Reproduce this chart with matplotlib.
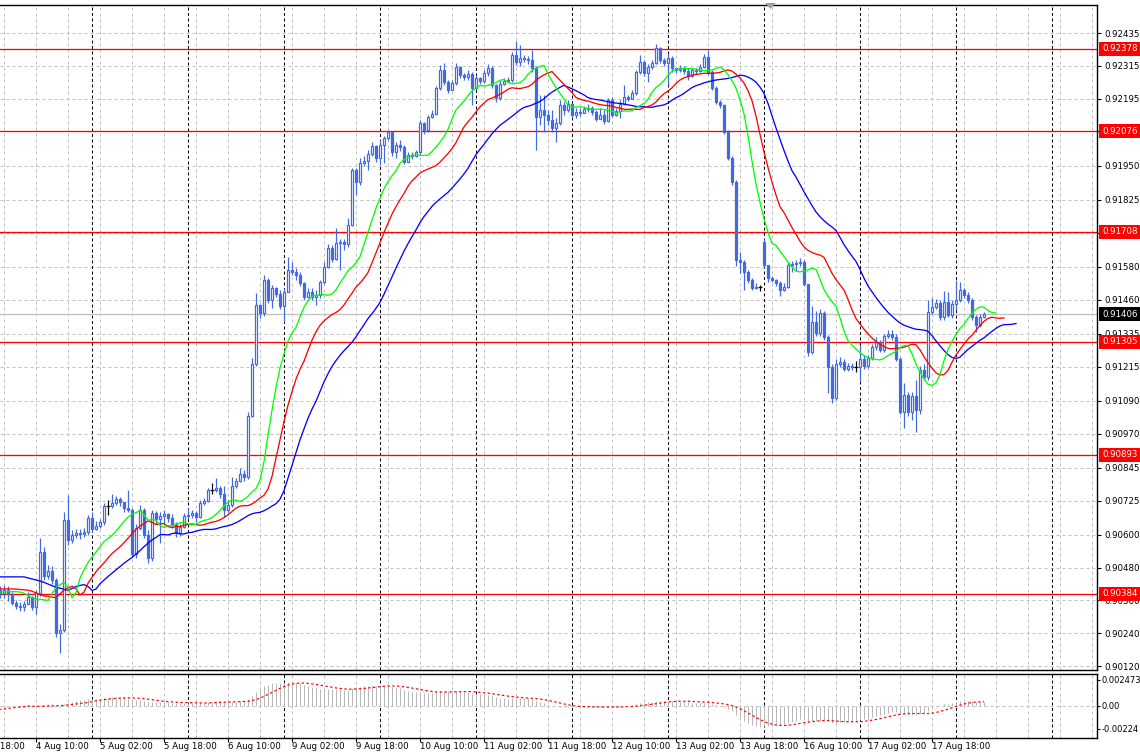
import numpy as np
import matplotlib
matplotlib.use('Agg')
import matplotlib.pyplot as plt
import matplotlib.transforms as mtransforms
from matplotlib.patches import Polygon

plt.rcParams['font.family'] = 'DejaVu Sans'

# H1 bars, 4 Aug 00:00 .. 18 Aug 07:00 (bar 0 = 4 Aug 00:00)
close = [
    .90398, .90387, .90398, .90384, .90351, .90340, .90336, .90347,
    .90373, .90336, .90387, .90537, .90449, .90467, .90435, .90241,
    .90252, .90654, .90581, .90599, .90606, .90603, .90610, .90661,
    .90621, .90632, .90647, .90705, .90705, .90716, .90731, .90720,
    .90698, .90691, .90530, .90625, .90691, .90599, .90515, .90680,
    .90658, .90669, .90676, .90661, .90639, .90606, .90628, .90669,
    .90672, .90680, .90665, .90716, .90724, .90763, .90763, .90771,
    .90749, .90691, .90709, .90778, .90796, .90822, .90811, .91034,
    .91225, .91440, .91411, .91532, .91459, .91501, .91480, .91437,
    .91487, .91568, .91561, .91550, .91521, .91470, .91487, .91470,
    .91477, .91525, .91579, .91650, .91610, .91668, .91672, .91662,
    .91733, .91934, .91890, .91959, .91967, .91993, .92022, .91978,
    .92025, .92050, .92072, .91999, .92025, .92018, .91963, .91989,
    .91985, .92000, .92106, .92080, .92128, .92139, .92234, .92300,
    .92256, .92227, .92252, .92311, .92282, .92274, .92285, .92234,
    .92271, .92259, .92289, .92307, .92245, .92197, .92249, .92259,
    .92263, .92355, .92329, .92344, .92340, .92336, .92307, .92128,
    .92153, .92135, .92117, .92088, .92106, .92172, .92153, .92176,
    .92135, .92146, .92143, .92157, .92161, .92146, .92120, .92135,
    .92113, .92190, .92135, .92150, .92176, .92201, .92194, .92216,
    .92292, .92329, .92289, .92311, .92325, .92380, .92336, .92325,
    .92344, .92307, .92300, .92307, .92296, .92278, .92300, .92296,
    .92311, .92347, .92292, .92234, .92183, .92172, .92073, .91978,
    .91890, .91605, .91597, .91561, .91532, .91501, .91506, .91506,
    .91586, .91539, .91532, .91521, .91495, .91506, .91586, .91590,
    .91593, .91597, .91517, .91268, .91378, .91338, .91410, .91323,
    .91213, .91100, .91224, .91231, .91206, .91217, .91213, .91213,
    .91242, .91217, .91246, .91286, .91305, .91276, .91327, .91334,
    .91323, .91242, .91049, .91111, .91049, .91107, .91056, .91203,
    .91177, .91415, .91433, .91448, .91396, .91451, .91404, .91444,
    .91459, .91495, .91477, .91459, .91396, .91367, .91396, .91406,
]
high = [
    .90416, .90413, .90416, .90413, .90391, .90362, .90354, .90358,
    .90391, .90376, .90398, .90588, .90555, .90489, .90486, .90442,
    .90274, .90683, .90745, .90617, .90621, .90621, .90625, .90672,
    .90683, .90650, .90658, .90716, .90727, .90749, .90742, .90738,
    .90716, .90763, .90698, .90639, .90709, .90698, .90617, .90691,
    .90687, .90683, .90691, .90680, .90676, .90647, .90639, .90680,
    .90698, .90691, .90687, .90727, .90734, .90771, .90789, .90807,
    .90778, .90778, .90727, .90811, .90807, .90844, .90837, .91049,
    .91247, .91484, .91444, .91550, .91539, .91512, .91506, .91495,
    .91501, .91616, .91597, .91575, .91561, .91525, .91501, .91501,
    .91495, .91532, .91597, .91662, .91658, .91722, .91683, .91683,
    .91758, .91941, .91941, .91978, .91985, .92007, .92036, .92025,
    .92044, .92058, .92080, .92076, .92036, .92044, .92025, .92000,
    .92000, .92007, .92117, .92109, .92135, .92153, .92241, .92318,
    .92325, .92263, .92263, .92325, .92314, .92289, .92300, .92292,
    .92282, .92274, .92300, .92322, .92314, .92249, .92263, .92271,
    .92274, .92366, .92406, .92391, .92355, .92351, .92373, .92314,
    .92208, .92208, .92153, .92153, .92124, .92190, .92183, .92190,
    .92179, .92161, .92161, .92168, .92176, .92168, .92153, .92161,
    .92153, .92197, .92201, .92161, .92190, .92245, .92208, .92227,
    .92300, .92355, .92336, .92322, .92336, .92395, .92384, .92344,
    .92358, .92351, .92311, .92318, .92314, .92307, .92307, .92307,
    .92322, .92358, .92373, .92300, .92241, .92190, .92176, .92080,
    .91985, .91897, .91633, .91605, .91568, .91539, .91519, .91515,
    .91683, .91586, .91546, .91535, .91528, .91521, .91597, .91601,
    .91604, .91612, .91604, .91513, .91437, .91418, .91425, .91418,
    .91330, .91224, .91242, .91249, .91242, .91228, .91228, .91235,
    .91293, .91257, .91257, .91297, .91323, .91312, .91334, .91349,
    .91349, .91334, .91249, .91155, .91122, .91122, .91166, .91217,
    .91224, .91459, .91466, .91462, .91459, .91491, .91488, .91459,
    .91532, .91525, .91502, .91488, .91466, .91404, .91407, .91415,
]
low = [
    .90376, .90369, .90369, .90358, .90344, .90329, .90321, .90321,
    .90351, .90325, .90310, .90376, .90435, .90438, .90420, .90226,
    .90168, .90244, .90563, .90570, .90588, .90584, .90592, .90599,
    .90610, .90617, .90625, .90636, .90672, .90698, .90709, .90705,
    .90683, .90683, .90519, .90515, .90617, .90588, .90497, .90504,
    .90639, .90570, .90639, .90647, .90625, .90592, .90595, .90625,
    .90658, .90661, .90647, .90661, .90709, .90720, .90749, .90756,
    .90734, .90665, .90683, .90702, .90771, .90793, .90796, .90804,
    .91031, .91217, .91393, .91400, .91448, .91429, .91470, .91426,
    .91378, .91495, .91550, .91532, .91510, .91459, .91466, .91459,
    .91440, .91466, .91517, .91575, .91597, .91604, .91568, .91642,
    .91654, .91729, .91843, .91879, .91948, .91934, .91985, .91963,
    .91952, .91960, .92044, .91985, .91978, .92003, .91956, .91971,
    .91974, .91981, .91989, .92066, .92073, .92124, .92135, .92227,
    .92245, .92216, .92229, .92245, .92271, .92263, .92263, .92172,
    .92227, .92249, .92252, .92278, .92234, .92183, .92190, .92245,
    .92252, .92256, .92318, .92314, .92329, .92322, .92292, .92007,
    .92099, .92073, .92099, .92073, .92036, .92099, .92135, .92146,
    .92124, .92124, .92132, .92143, .92146, .92135, .92113, .92124,
    .92102, .92109, .92128, .92132, .92124, .92172, .92186, .92194,
    .92208, .92285, .92278, .92256, .92303, .92322, .92325, .92314,
    .92245, .92292, .92289, .92292, .92285, .92263, .92274, .92285,
    .92292, .92307, .92282, .92227, .92175, .92161, .92066, .91971,
    .91879, .91582, .91557, .91495, .91521, .91495, .91498, .91491,
    .91575, .91525, .91525, .91510, .91473, .91491, .91502, .91561,
    .91565, .91582, .91510, .91254, .91261, .91327, .91327, .91312,
    .91119, .91082, .91093, .91213, .91198, .91198, .91202, .91195,
    .91162, .91206, .91209, .91239, .91276, .91268, .91268, .91320,
    .91312, .91235, .91042, .90990, .91034, .91020, .90976, .91042,
    .91166, .91166, .91407, .91426, .91385, .91385, .91396, .91393,
    .91422, .91451, .91466, .91448, .91385, .91341, .91360, .91393,
]
first_open = 0.90400
gap_opens = {192: 0.91672}   # Monday open after the weekend

days = ['3 Aug', '4 Aug', '5 Aug', '6 Aug', '9 Aug', '10 Aug', '11 Aug',
        '12 Aug', '13 Aug', '16 Aug', '17 Aug', '18 Aug', '19 Aug']

levels = [0.92378, 0.92076, 0.91708, 0.91305, 0.90893, 0.90384]
last_price = 0.91406
price_ticks = [0.92435, 0.92315, 0.92195, 0.92075, 0.91950, 0.91825, 0.91705,
               0.91580, 0.91460, 0.91335, 0.91215, 0.91090, 0.90970, 0.90845,
               0.90725, 0.90600, 0.90480, 0.90360, 0.90240, 0.90120]
macd_ticks = [0.002473, 0.0, -0.00224]
macd_labels = ['0.002473', '0.00', '-0.00224']

# alligator / macd state carried in from bars before the window
jaw_seed, teeth_seed, lips_seed = 0.90446, 0.90402, 0.90391
signal_seed = -0.0005

BLUE = '#4169e1'
GRID = '#c0c0c0'
PX = 0.72  # one pixel in points

c = np.array(close)
hi = np.array(high)
lo = np.array(low)
o = np.r_[first_open, c[:-1]]
for k, v in gap_opens.items():
    o[k] = v
hi = np.maximum(hi, np.maximum(o, c))
lo = np.minimum(lo, np.minimum(o, c))
idx = np.arange(len(c))
n_right = 275.25

W, H = 1140, 754
fig = plt.figure(figsize=(W / 100, H / 100), dpi=100)
ax = fig.add_axes([0, 84 / H, 1097 / W, 665 / H])
ax2 = fig.add_axes([0, 16 / H, 1097 / W, 64 / H])

for a in (ax, ax2):
    a.set_xlim(1, n_right)
    a.spines['left'].set_visible(False)
    for s in ('top', 'right', 'bottom'):
        a.spines[s].set_linewidth(1.0)
    a.set_xticks([])
    # vertical grid every 8 bars, day separators every 24
    for g in range(2, int(n_right) + 1, 8):
        a.axvline(g, color=GRID, lw=PX, ls=(0, (3, 3)), zorder=0)
    for g in range(24, int(n_right) + 1, 24):
        a.axvline(g, color='black', lw=PX, ls=(0, (3, 2.5)), zorder=1)

ax.set_ylim(0.901055, 0.925374)
ax2.set_ylim(-0.003139, 0.003044)

for v in price_ticks:
    ax.axhline(v, color=GRID, lw=PX, ls=(0, (3, 3)), zorder=0)
ax2.axhline(0, color=GRID, lw=PX, ls=(0, (3, 3)), zorder=0)

# candles
up = c > o
dn = c < o
dj = c == o
ax.vlines(idx[~dj], lo[~dj], hi[~dj], color=BLUE, lw=PX * 1.2, zorder=3)
ax.vlines(idx[dj], lo[dj], hi[dj], color='black', lw=PX * 1.2, zorder=3)
ax.bar(idx[up], (c - o)[up], bottom=o[up], width=0.62, facecolor='white',
       edgecolor=BLUE, linewidth=PX * 1.2, zorder=4)
ax.bar(idx[dn], (o - c)[dn], bottom=c[dn], width=0.62, facecolor=BLUE,
       edgecolor=BLUE, linewidth=PX * 1.2, zorder=4)
ax.hlines(c[dj], idx[dj] - 0.45, idx[dj] + 0.45, color='black', lw=PX * 1.2, zorder=4)


def smma(values, n, seed):
    out, prev = [], seed
    for v in values:
        prev = (prev * (n - 1) + v) / n
        out.append(prev)
    return np.array(out)


median = (hi + lo) / 2
for n, shift, seed, col in [(13, 8, jaw_seed, '#0000ff'),
                            (8, 5, teeth_seed, '#ff0000'),
                            (5, 3, lips_seed, '#00ff00')]:
    line = smma(median, n, seed)
    xs = np.r_[np.arange(0, shift), idx + shift]
    ys = np.r_[[seed] * shift, line]
    ax.plot(xs, ys, color=col, lw=PX * 1.3, zorder=5)

# horizontal levels
for lv in levels:
    ax.axhline(lv, color='#ff0000', lw=PX * 1.3, zorder=2)
ax.axhline(last_price, color=GRID, lw=PX * 1.3, zorder=2)

# right price scale
ax.yaxis.tick_right()
ax.set_yticks(price_ticks)
ax.set_yticklabels(['%.5f' % v for v in price_ticks])
ax.tick_params(axis='y', length=3, width=0.8, pad=2, labelsize=6.2)
ytr = ax.get_yaxis_transform()
for lv in levels:
    ax.text(1.0045, lv, '%.5f' % lv, transform=ytr, ha='left', va='center',
            fontsize=6.2, color='white', clip_on=False, zorder=10,
            bbox=dict(boxstyle='square,pad=0.3', fc='#ff0000', ec='none'))
ax.text(1.0045, last_price, '%.5f' % last_price, transform=ytr, ha='left',
        va='center', fontsize=6.2, color='white', clip_on=False, zorder=10,
        bbox=dict(boxstyle='square,pad=0.3', fc='black', ec='none'))

# MACD panel
def ema(values, n, seed):
    a, out, prev = 2 / (n + 1), [], seed
    for v in values:
        prev = prev + a * (v - prev)
        out.append(prev)
    return np.array(out)


macd = ema(c, 12, c[0]) - ema(c, 26, c[0])
signal = np.convolve(np.r_[[signal_seed] * 8, macd], np.ones(9) / 9, 'valid')
ax2.vlines(idx, 0, macd, color='#b8b8b8', lw=PX, zorder=2)
ax2.plot(idx, signal, color='#ff0000', lw=PX * 1.2, ls=(0, (2, 2)), zorder=3)
ax2.yaxis.tick_right()
ax2.set_yticks(macd_ticks)
ax2.set_yticklabels(macd_labels)
ax2.tick_params(axis='y', length=2, width=0.8, pad=1.5, labelsize=6)

# time labels every 16 bars
lab_bars = list(range(-6, len(c), 16))
ax2.set_xticks([b for b in lab_bars if b >= 1])
ax2.tick_params(axis='x', length=3, width=0.8, labelbottom=False)
xtr = mtransforms.blended_transform_factory(ax2.transData, ax2.transAxes)
for b in lab_bars:
    day = days[b // 24 + 1]
    ax2.text(b - 0.1, -0.07, '%s %02d:00' % (day, b % 24), transform=xtr,
             ha='left', va='top', fontsize=6.2, clip_on=False)

# chart-shift marker at the top
fig.patches.append(Polygon([[765 / W, 1 - 3 / H], [776 / W, 1 - 3 / H],
                            [770.5 / W, 1 - 9 / H]], closed=True,
                           transform=fig.transFigure, facecolor='#a0a0a0',
                           edgecolor='none'))

fig.savefig('out.png', dpi=100)
